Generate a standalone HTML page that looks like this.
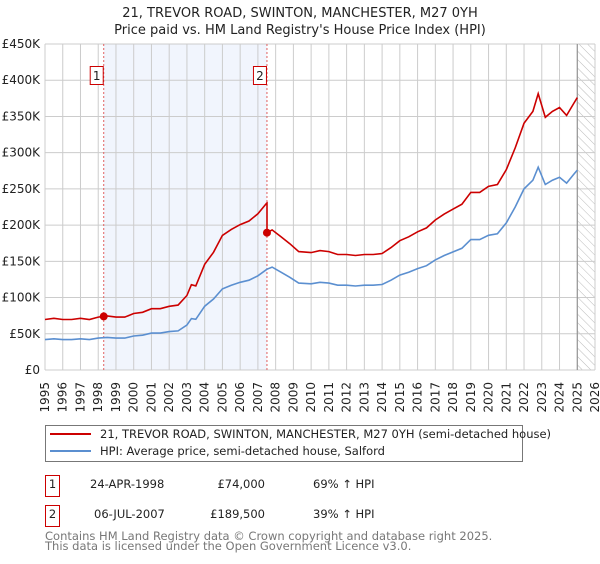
<!DOCTYPE html>
<html><head><meta charset="utf-8"><style>
body{margin:0;background:#fff;width:600px;height:560px;overflow:hidden;font-family:"DejaVu Sans","Liberation Sans",sans-serif}
svg text{font-family:"DejaVu Sans","Liberation Sans",sans-serif}
</style></head><body>
<svg id="chart" width="600" height="560" viewBox="0 0 600 560" xmlns="http://www.w3.org/2000/svg">
<defs><pattern id="hatch" width="6" height="6" patternUnits="userSpaceOnUse" patternTransform="rotate(-45)"><line x1="0" y1="0" x2="0" y2="6" stroke="#bbb" stroke-width="1"/></pattern></defs>
<text x="300" y="17" text-anchor="middle" font-size="13" fill="#222">21, TREVOR ROAD, SWINTON, MANCHESTER, M27 0YH</text>
<text x="300" y="34" text-anchor="middle" font-size="13" fill="#222">Price paid vs. HM Land Registry's House Price Index (HPI)</text>
<g id="plot"></g>
<g>
<rect x="45.5" y="425.5" width="477" height="36" fill="#fff" stroke="#777"/>
<line x1="50" y1="434" x2="91" y2="434" stroke="#cc0000" stroke-width="2"/>
<text x="100" y="438" font-size="11.5" fill="#222">21, TREVOR ROAD, SWINTON, MANCHESTER, M27 0YH (semi-detached house)</text>
<line x1="50" y1="451" x2="91" y2="451" stroke="#5b8fd0" stroke-width="2"/>
<text x="100" y="455" font-size="11.5" fill="#222">HPI: Average price, semi-detached house, Salford</text>
</g>
<g font-size="11.5" fill="#222">
<rect x="45.5" y="475.5" width="14" height="21" fill="#fff" stroke="#cc0000"/>
<text x="52.5" y="488" text-anchor="middle">1</text>
<text x="90" y="488">24-APR-1998</text>
<text x="265" y="488" text-anchor="end">£74,000</text>
<text x="313" y="488">69% ↑ HPI</text>
<rect x="45.5" y="505.5" width="14" height="21" fill="#fff" stroke="#cc0000"/>
<text x="52.5" y="518" text-anchor="middle">2</text>
<text x="94" y="518">06-JUL-2007</text>
<text x="265" y="518" text-anchor="end">£189,500</text>
<text x="313" y="518">39% ↑ HPI</text>
</g>
<text x="45" y="540" font-size="11.5" fill="#777">Contains HM Land Registry data © Crown copyright and database right 2025.</text>
<text x="45" y="550" font-size="11.5" fill="#777">This data is licensed under the Open Government Licence v3.0.</text>
</svg>
<script>
const hpiYears=[1995,1995.5,1996,1996.5,1997,1997.5,1998,1998.5,1999,1999.5,2000,2000.5,2001,2001.5,2002,2002.5,2003,2003.25,2003.5,2004,2004.5,2005,2005.5,2006,2006.5,2007,2007.5,2007.8,2008.3,2008.8,2009.3,2010,2010.5,2011,2011.5,2012,2012.5,2013,2013.5,2014,2014.5,2015,2015.5,2016,2016.5,2017,2017.5,2018,2018.5,2019,2019.5,2020,2020.5,2021,2021.5,2022,2022.5,2022.8,2023.2,2023.6,2024,2024.4,2024.8,2025];
const hpiValues=[42,43,42,42,43,42,44,45,44,44,47,48,51,51,53,54,62,71,70,88,98,112,117,121,124,130,139,142,135,128,120,119,121,120,117,117,116,117,117,118,124,131,135,140,144,152,158,163,168,180,180,186,188,203,225,250,262,280,256,262,266,258,270,276];
const saleYears=[1998.31,2007.51];
const salePrices=[74,189.5];
const saleLabels=["1","2"];
const yTicks=[0,50,100,150,200,250,300,350,400,450];
const yTickLabels=["£0","£50K","£100K","£150K","£200K","£250K","£300K","£350K","£400K","£450K"];
const xTicks=[1995,1996,1997,1998,1999,2000,2001,2002,2003,2004,2005,2006,2007,2008,2009,2010,2011,2012,2013,2014,2015,2016,2017,2018,2019,2020,2021,2022,2023,2024,2025,2026];

const X0=45,X1=595,Y0=370,Y1=44;
const xs=y=>X0+(y-1995)/(2026-1995)*(X1-X0);
const ys=v=>Y0-v/450*(Y0-Y1);
const NS="http://www.w3.org/2000/svg";
const g=document.getElementById('plot');
function mk(t,a){const e=document.createElementNS(NS,t);for(const k in a)e.setAttribute(k,a[k]);g.appendChild(e);return e;}
function hpiAt(t){for(let i=1;i<hpiYears.length;i++){if(t<=hpiYears[i]){const f=(t-hpiYears[i-1])/(hpiYears[i]-hpiYears[i-1]);return hpiValues[i-1]+f*(hpiValues[i]-hpiValues[i-1]);}}return hpiValues[hpiValues.length-1];}

let e=mk('rect',{x:xs(saleYears[0]),y:Y1,width:xs(saleYears[1])-xs(saleYears[0]),height:Y0-Y1,fill:'#eef3fc',opacity:0.8});


e=mk('rect',{x:xs(2025),y:Y1,width:X1-xs(2025),height:Y0-Y1,fill:'url(#hatch)'});


yTicks.forEach((v,i)=>{
  e=mk('line',{x1:X0,x2:X1,y1:ys(v),y2:ys(v),stroke:'#cccccc','stroke-width':1});
  
  
  e=mk('text',{x:40,y:ys(v)+4,'text-anchor':'end','font-size':12,fill:'#222'});
  e.textContent=yTickLabels[i];
  
  
});
xTicks.forEach(t=>{
  e=mk('line',{x1:xs(t),x2:xs(t),y1:Y1,y2:Y0,stroke:'#cccccc','stroke-width':1});
  
  
  e=mk('text',{x:0,y:0,'text-anchor':'end','font-size':12,fill:'#222',transform:`translate(${xs(t)+4},382) rotate(-90)`});
  e.textContent=String(t);
  
  
});
e=mk('line',{x1:xs(2025),x2:xs(2025),y1:Y1,y2:Y0,stroke:'#888','stroke-width':1});


saleYears.forEach((t,i)=>{
  e=mk('line',{x1:xs(t),x2:xs(t),y1:Y1,y2:Y0,stroke:'#e06060','stroke-width':1,'stroke-dasharray':'2,2'});
  
  
});
let pts=hpiYears.map((t,i)=>xs(t).toFixed(1)+','+ys(hpiValues[i]).toFixed(1)).join(' ');
e=mk('polyline',{points:pts,fill:'none',stroke:'#5b8fd0','stroke-width':1.6});


const r1=salePrices[0]/hpiAt(saleYears[0]),r2=salePrices[1]/hpiAt(saleYears[1]);
let rp=[];
hpiYears.forEach((t,i)=>{
  if(t<saleYears[1]) rp.push([t,hpiValues[i]*r1]);
  else { if(rp.length&&rp[rp.length-1][0]<saleYears[1]){rp.push([saleYears[1],hpiAt(saleYears[1])*r1]);rp.push([saleYears[1],salePrices[1]]);} rp.push([t,hpiValues[i]*r2]); }
});
pts=rp.map(p=>xs(p[0]).toFixed(1)+','+ys(p[1]).toFixed(1)).join(' ');
e=mk('polyline',{points:pts,fill:'none',stroke:'#cc0000','stroke-width':1.6});


saleYears.forEach((t,i)=>{
  e=mk('circle',{cx:xs(t),cy:ys(salePrices[i]),r:4,fill:'#cc0000'});
  
  
  e=mk('rect',{x:xs(t)-13.5,y:66.5,width:13,height:18,fill:'#fff',stroke:'#cc0000'});
  
  
  e=mk('text',{x:xs(t)-7,y:80,'text-anchor':'middle','font-size':12,fill:'#222'});
  e.textContent=saleLabels[i];
  
  
});
</script>
</body></html>
